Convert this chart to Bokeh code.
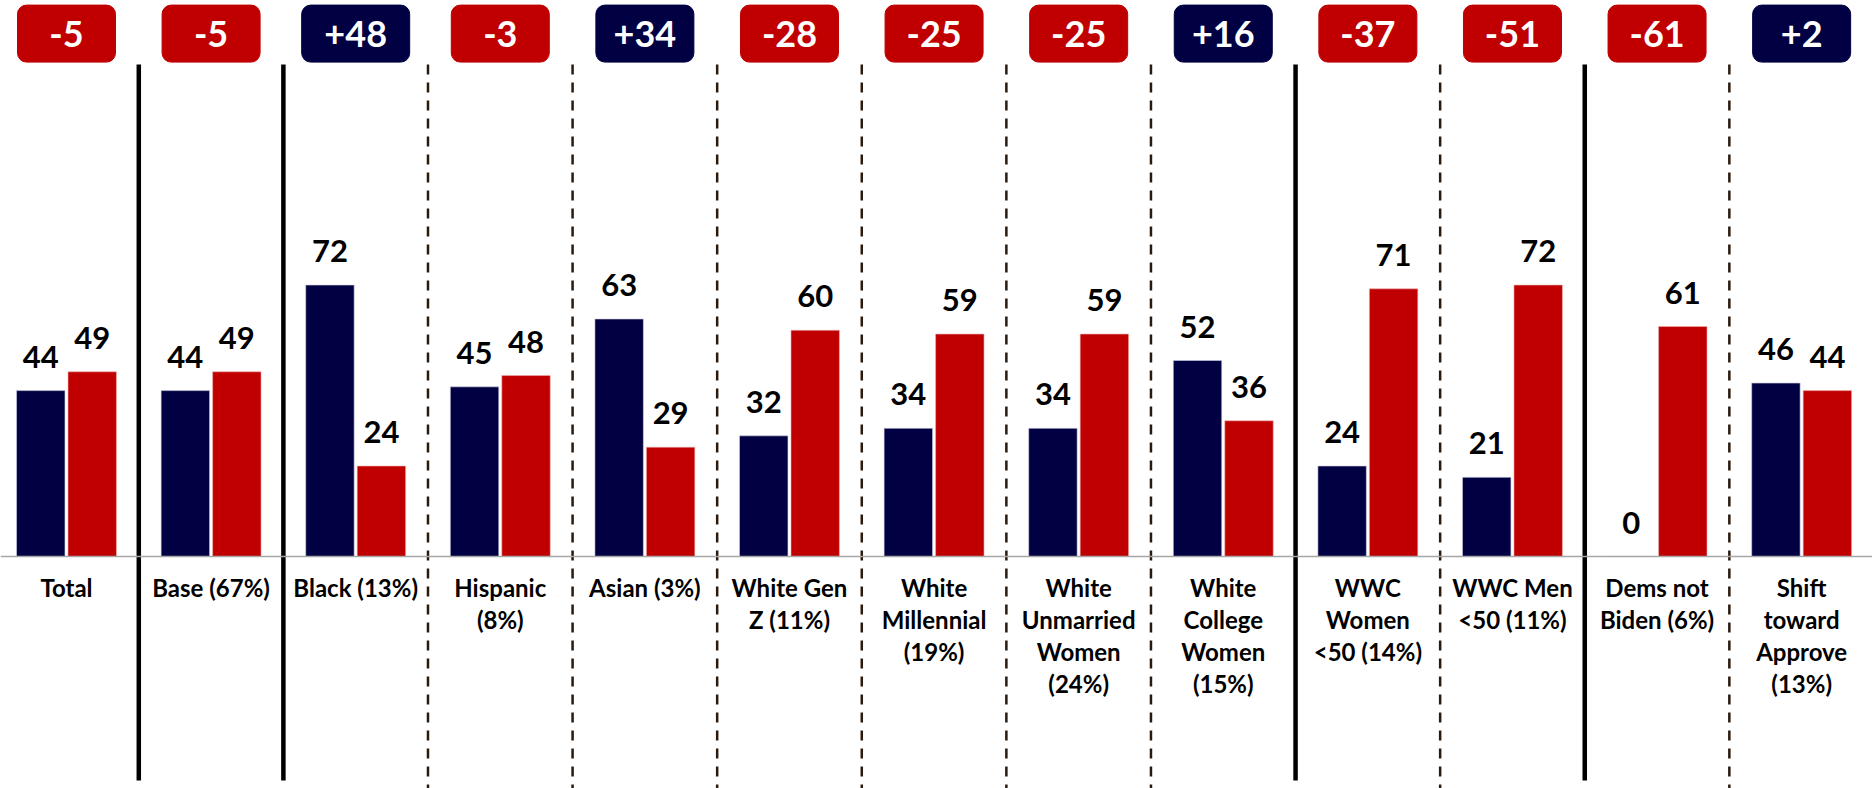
from bokeh.plotting import figure
from bokeh.models import Range1d, ColumnDataSource, Span
from bokeh.core.properties import value
from bokeh.embed import file_html
from bokeh.resources import INLINE

# ---- data ----
categories = ["Total", "Base (67%)", "Black (13%)", "Hispanic\n(8%)", "Asian (3%)",
              "White Gen\nZ (11%)", "White\nMillennial\n(19%)", "White\nUnmarried\nWomen\n(24%)",
              "White\nCollege\nWomen\n(15%)", "WWC\nWomen\n<50 (14%)", "WWC Men\n<50 (11%)",
              "Dems not\nBiden (6%)", "Shift\ntoward\nApprove\n(13%)"]
approve = [44, 44, 72, 45, 63, 32, 34, 34, 52, 24, 21, 0, 46]
disapprove = [49, 49, 24, 48, 29, 60, 59, 59, 36, 71, 72, 61, 44]
net = [-5, -5, 48, -3, 34, -28, -25, -25, 16, -37, -51, -61, 2]
separators = ["solid", "solid", "dashed", "dashed", "dashed", "dashed", "dashed",
              "dashed", "solid", "dashed", "solid", "dashed"]

NAVY = "#000042"
RED = "#C00000"
FONT = value("Lato")

n = len(categories)
xs = list(range(n))

p = figure(width=1872, height=788, x_range=Range1d(-0.4564, 12.490),
           y_range=Range1d(-61.54, 147.48), output_backend="svg",
           toolbar_location=None, min_border=0)
p.min_border_left = p.min_border_right = p.min_border_top = p.min_border_bottom = 0
p.axis.visible = False
p.xgrid.visible = False
p.ygrid.visible = False
p.outline_line_color = None
p.background_fill_color = "white"
p.border_fill_color = "white"

# separators
for i, style in enumerate(separators):
    xb = i + 0.5
    if style == "solid":
        p.segment(x0=[xb], y0=[130.5], x1=[xb], y1=[-59.4], line_color="black", line_width=4.5)
    else:
        p.segment(x0=[xb], y0=[130.5], x1=[xb], y1=[-65], line_color="#2a1a0e",
                  line_width=2.5, line_dash="10 8")

# baseline
p.add_layout(Span(location=0, dimension="width", line_color="#a6a6a6", line_width=1.5))

off = 0.178
bw = 0.335
src = ColumnDataSource(dict(
    xa=[x - off for x in xs], xd=[x + off for x in xs],
    a=approve, d=disapprove,
    ya=[v + 9.0 for v in approve], yd=[v + 9.0 for v in disapprove],
    la=[str(v) for v in approve], ld=[str(v) for v in disapprove],
))
p.vbar(x="xa", top="a", bottom=0, width=bw, source=src, fill_color=NAVY,
       line_color="#d0d0e0", line_width=0.6)
p.vbar(x="xd", top="d", bottom=0, width=bw, source=src, fill_color=RED,
       line_color="#f0b0b0", line_width=0.6)

p.text(x="xa", y="ya", text="la", source=src, text_font=FONT, text_font_style="bold",
       text_font_size="31px", text_align="center", text_baseline="middle", text_color="black")
p.text(x="xd", y="yd", text="ld", source=src, text_font=FONT, text_font_style="bold",
       text_font_size="31px", text_align="center", text_baseline="middle", text_color="black")

# category labels
p.text(x=xs, y=[-4.5] * n, text=categories, text_font=FONT, text_font_style="bold",
       text_font_size="24px", text_align="center", text_baseline="top",
       text_color="black", text_line_height=1.1)

# net badges
badge_labels = [("+" if v > 0 else "") + str(v) for v in net]
badge_colors = [NAVY if v > 0 else RED for v in net]
badge_w = [108 if v == 48 else 98 for v in net]
bsrc = ColumnDataSource(dict(x=xs, y=[138.7] * n, t=badge_labels, c=badge_colors, w=badge_w))
p.rect(x="x", y="y", width="w", height=57, width_units="screen", height_units="screen",
       fill_color="c", line_color="c", source=bsrc, border_radius=9)
p.text(x="x", y="y", text="t", source=bsrc, text_font=FONT, text_font_style="bold",
       text_font_size="36px", text_align="center", text_baseline="middle", text_color="white")

open("out.html", "w").write(file_html(p, INLINE))
